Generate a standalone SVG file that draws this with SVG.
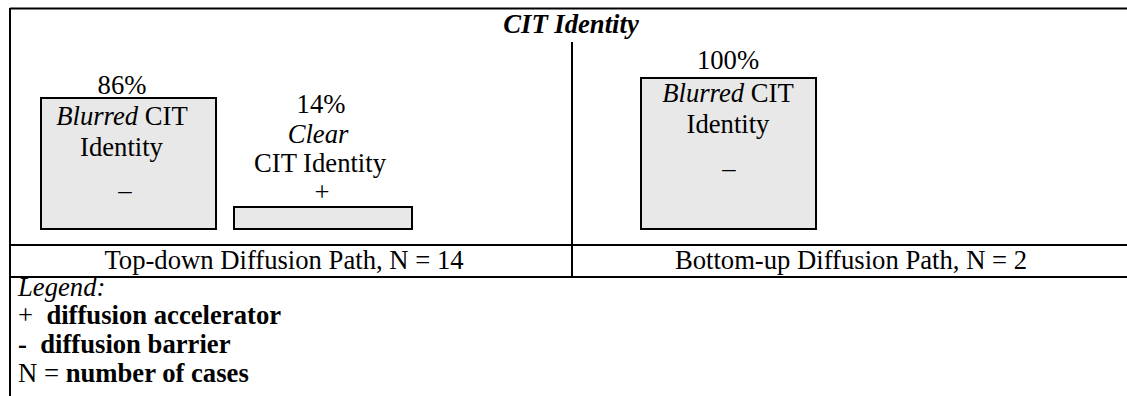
<svg xmlns="http://www.w3.org/2000/svg" width="1127" height="396" viewBox="0 0 1127 396">
<style>
text{font-family:'Liberation Serif',Tinos,'Times New Roman',Times,'Noto Serif','DejaVu Serif',serif;font-size:26.67px;fill:#000}
.c{text-anchor:middle}
.i{font-style:italic}
.b{font-weight:bold}
.box{fill:#e8e8e8;stroke:#000;stroke-width:2}
.rule{stroke:#000;stroke-width:2;fill:none}
</style>
<rect width="1127" height="396" fill="#fff"/>
<g id="table">
<line class="rule" x1="10" y1="8.5" x2="1127" y2="8.5"/>
<line class="rule" x1="10" y1="8" x2="10" y2="396"/>
<line class="rule" x1="572" y1="42" x2="572" y2="277"/>
<line class="rule" x1="10" y1="245" x2="1127" y2="245"/>
<line class="rule" x1="10" y1="277" x2="1127" y2="277"/>
<text class="c i b" x="571" y="33">CIT Identity</text>
</g>
<g id="node-blurred-topdown">
<rect class="box" x="41" y="98" width="175" height="131"/>
<text class="c" x="122" y="94">86%</text>
<text class="c" x="122" y="125"><tspan class="i">Blurred</tspan> CIT</text>
<text class="c" x="121.5" y="156">Identity</text>
<text class="c" x="125" y="199">–</text>
</g>
<g id="node-clear-topdown">
<rect class="box" x="234" y="207" width="178" height="22"/>
<text class="c" x="321" y="113">14%</text>
<text class="c i" x="318" y="143">Clear</text>
<text class="c" x="320" y="172">CIT Identity</text>
<text class="c" x="322" y="201">+</text>
</g>
<g id="node-blurred-bottomup">
<rect class="box" x="641" y="78" width="175" height="151"/>
<text class="c" x="728" y="69">100%</text>
<text class="c" x="728" y="102"><tspan class="i">Blurred</tspan> CIT</text>
<text class="c" x="728" y="133">Identity</text>
<text class="c" x="729" y="177">–</text>
</g>
<g id="paths">
<text class="c" x="284" y="269">Top-down Diffusion Path, N = 14</text>
<text class="c" x="851" y="269">Bottom-up Diffusion Path, N = 2</text>
</g>
<g id="legend">
<text class="i" x="18" y="296">Legend:</text>
<text x="18" y="324" xml:space="preserve">+  <tspan class="b">diffusion accelerator</tspan></text>
<text class="b" x="18" y="353" xml:space="preserve">-  diffusion barrier</text>
<text x="18" y="382">N = <tspan class="b">number of cases</tspan></text>
</g>
<g id="connectors"></g>
</svg>
